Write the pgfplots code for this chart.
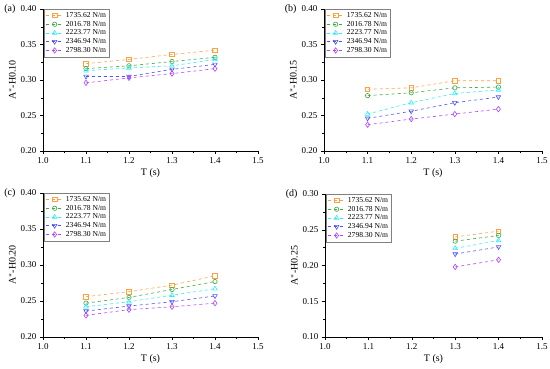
\documentclass[border=0pt]{standalone}
\usepackage{fontspec}
\setmainfont{Liberation Serif}
\usepackage{pgfplots}
\pgfplotsset{compat=1.18}
\definecolor{cO}{RGB}{255,160,64}
\definecolor{cG}{RGB}{60,170,60}
\definecolor{cC}{RGB}{40,240,250}
\definecolor{cB}{RGB}{80,80,255}
\definecolor{cP}{RGB}{175,70,255}
\pgfplotsset{
  panel/.style={
    scale only axis, width=215pt, height=142pt,
    xmin=1.0, xmax=1.5,
    xtick={1.0,1.1,1.2,1.3,1.4,1.5},
    axis lines*=left,
    tick align=outside,
    minor x tick num=1, minor y tick num=1,
    major tick length=3pt, minor tick length=2pt,
    tick style={black, line width=0.5pt},
    axis line style={line width=0.6pt},
    /pgf/number format/assume math mode=true,
    xticklabel style={/pgf/number format/.cd, fixed, fixed zerofill, precision=1},
    yticklabel style={/pgf/number format/.cd, fixed, fixed zerofill, precision=2},
    tick label style={font=\fontsize{9}{10}\selectfont},
    label style={font=\fontsize{10}{11}\selectfont},
    xlabel={T (s)},
    xlabel style={yshift=2pt},
    ylabel style={yshift=-2pt},
    clip=false,
    legend cell align=left,
    legend style={at={(0.005,1)}, anchor=north west, draw=gray, line width=0.5pt,
      font=\fontsize{7.6}{8.6}\selectfont, inner sep=1pt, row sep=-1.8pt},
    legend image code/.code={%
      \draw[mark repeat=2, mark phase=2] plot coordinates {(0pt,0pt) (9pt,0pt) (18pt,0pt)};},
    every axis plot/.append style={dashed, line width=0.6pt, mark size=2.2pt,
      mark options={solid, fill=white}},
  },
  sO/.style={cO, mark=square},
  sG/.style={cG, mark=o},
  sC/.style={cC, mark=triangle, mark size=2.6pt},
  sB/.style={cB, mark=triangle, mark size=2.6pt, mark options={solid, fill=white, rotate=180}},
  sP/.style={cP, mark=diamond, mark size=2.7pt},
}
\begin{document}
\begin{tikzpicture}
\useasboundingbox (0,0) rectangle (550pt,368pt);
% (a)
\begin{axis}[panel, at={(43pt,217pt)}, anchor=south west,
  ymin=0.20, ymax=0.40, ytick={0.20,0.25,0.30,0.35,0.40},
  ylabel={A$^{*}$-H0.10}]
\addplot+[sO] coordinates {(1.1,0.323) (1.2,0.329) (1.3,0.336) (1.4,0.342)};
\addplot+[sG] coordinates {(1.1,0.316) (1.2,0.320) (1.3,0.326) (1.4,0.332)};
\addplot+[sC] coordinates {(1.1,0.313) (1.2,0.317) (1.3,0.320) (1.4,0.329)};
\addplot+[sB] coordinates {(1.1,0.305) (1.2,0.305) (1.3,0.315) (1.4,0.322)};
\addplot+[sP] coordinates {(1.1,0.296) (1.2,0.303) (1.3,0.309) (1.4,0.316)};
\legend{1735.62 N/m,2016.78 N/m,2223.77 N/m,2346.94 N/m,2798.30 N/m}
\node[anchor=east, font=\fontsize{10}{11}\selectfont] at (rel axis cs:0,1) [xshift=-24pt] {(a)};
\end{axis}
% (b)
\begin{axis}[panel, at={(324pt,217pt)}, anchor=south west, width=218pt,
  ymin=0.20, ymax=0.40, ytick={0.20,0.25,0.30,0.35,0.40},
  ylabel={A$^{*}$-H0.15}]
\addplot+[sO] coordinates {(1.1,0.287) (1.2,0.289) (1.3,0.299) (1.4,0.299)};
\addplot+[sG] coordinates {(1.1,0.278) (1.2,0.282) (1.3,0.289) (1.4,0.290)};
\addplot+[sC] coordinates {(1.1,0.252) (1.2,0.268) (1.3,0.281) (1.4,0.286)};
\addplot+[sB] coordinates {(1.1,0.246) (1.2,0.256) (1.3,0.268) (1.4,0.276)};
\addplot+[sP] coordinates {(1.1,0.237) (1.2,0.245) (1.3,0.252) (1.4,0.259)};
\legend{1735.62 N/m,2016.78 N/m,2223.77 N/m,2346.94 N/m,2798.30 N/m}
\node[anchor=east, font=\fontsize{10}{11}\selectfont] at (rel axis cs:0,1) [xshift=-24pt] {(b)};
\end{axis}
% (c)
\begin{axis}[panel, at={(43pt,31pt)}, anchor=south west, height=144pt,
  ymin=0.20, ymax=0.40, ytick={0.20,0.25,0.30,0.35,0.40},
  ylabel={A$^{*}$-H0.20}]
\addplot+[sO] coordinates {(1.1,0.256) (1.2,0.263) (1.3,0.272) (1.4,0.285)};
\addplot+[sG] coordinates {(1.1,0.247) (1.2,0.255) (1.3,0.266) (1.4,0.277)};
\addplot+[sC] coordinates {(1.1,0.242) (1.2,0.249) (1.3,0.258) (1.4,0.267)};
\addplot+[sB] coordinates {(1.1,0.236) (1.2,0.243) (1.3,0.249) (1.4,0.257)};
\addplot+[sP] coordinates {(1.1,0.230) (1.2,0.238) (1.3,0.242) (1.4,0.247)};
\legend{1735.62 N/m,2016.78 N/m,2223.77 N/m,2346.94 N/m,2798.30 N/m}
\node[anchor=east, font=\fontsize{10}{11}\selectfont] at (rel axis cs:0,1) [xshift=-24pt] {(c)};
\end{axis}
% (d)
\begin{axis}[panel, at={(325pt,31pt)}, anchor=south west, width=217pt, height=143pt,
  ymin=0.10, ymax=0.30, ytick={0.10,0.15,0.20,0.25,0.30},
  ylabel={A$^{*}$-H0.25}]
\addplot+[sO] coordinates {(1.3,0.240) (1.4,0.248)};
\addplot+[sG] coordinates {(1.3,0.234) (1.4,0.242)};
\addplot+[sC] coordinates {(1.3,0.224) (1.4,0.235)};
\addplot+[sB] coordinates {(1.3,0.216) (1.4,0.226)};
\addplot+[sP] coordinates {(1.3,0.198) (1.4,0.208)};
\legend{1735.62 N/m,2016.78 N/m,2223.77 N/m,2346.94 N/m,2798.30 N/m}
\node[anchor=east, font=\fontsize{10}{11}\selectfont] at (rel axis cs:0,1) [xshift=-24pt] {(d)};
\end{axis}
\end{tikzpicture}
\end{document}
